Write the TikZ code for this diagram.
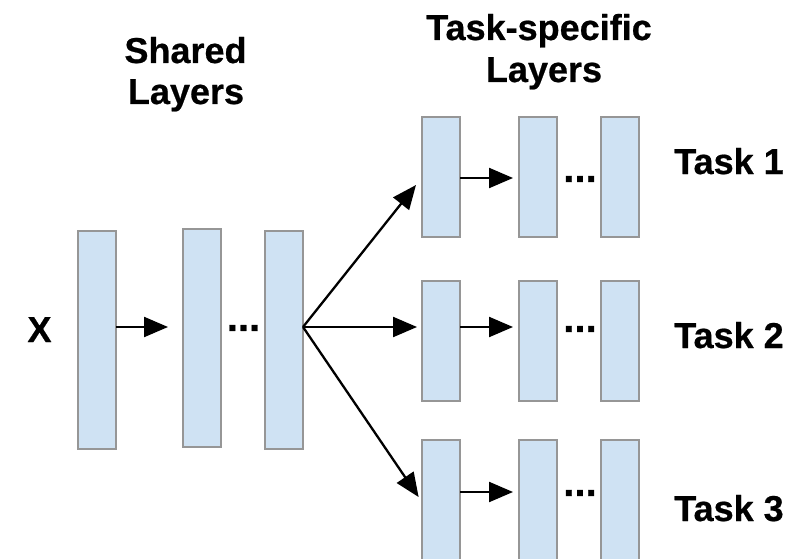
\documentclass[tikz,border=0pt]{standalone}
\usepackage{fontspec}
\setmainfont{Liberation Sans}[BoldFeatures={FakeBold=0.6}]
\usetikzlibrary{arrows.meta,calc}
\definecolor{layerfill}{HTML}{CFE2F3}
\definecolor{layerdraw}{HTML}{969696}
\tikzset{
  layer/.style={draw=layerdraw, line width=1.8pt, fill=layerfill, minimum width=38pt, inner sep=0pt, outer sep=0pt},
  tall/.style={layer, minimum height=218pt},
  short/.style={layer, minimum height=120pt},
  lbl/.style={font=\bfseries\fontsize{36}{42}\selectfont, inner sep=0pt, anchor=base},
  dotlbl/.style={font=\bfseries\fontsize{40}{44}\selectfont, inner sep=0pt},
  arr/.style={line width=2.3pt, -{Triangle[length=24pt,width=20pt]}},
}
\begin{document}
\begin{tikzpicture}[x=1pt,y=-1pt]
\useasboundingbox (0,0) rectangle (792,559);
\fill[white] (0,0) rectangle (792,559);
\clip (0,0) rectangle (792,559);

% headings
\node[lbl] (h1a) at (185.5,63) {Shared};
\node[lbl] (h1b) at (186,104) {Layers};
\node[lbl] (h2a) at (539,40) {Task-specific};
\node[lbl] (h2b) at (544,82) {Layers};

% input
\node[lbl] (x) at (39.5,342) {X};

% shared layers
\node[tall] (s1) at (97,340) {};
\node[tall] (s2) at (202,338) {};
\node[tall] (s3) at (284,340) {};
\node[dotlbl] (sd) at (243.5,328) {...};

% task rows
\node[short] (t1a) at (441,177) {};
\node[short] (t1b) at (538,177) {};
\node[short] (t1c) at (620,177) {};
\node[dotlbl] (d1) at (580,179) {...};

\node[short] (t2a) at (441,341) {};
\node[short] (t2b) at (538,341) {};
\node[short] (t2c) at (620,341) {};
\node[dotlbl] (d2) at (580,329) {...};

\node[layer, minimum height=124pt] (t3a) at (441,502) {};
\node[layer, minimum height=124pt] (t3b) at (538,502) {};
\node[layer, minimum height=124pt] (t3c) at (620,502) {};
\node[dotlbl] (d3) at (580,493) {...};

% task labels
\node[lbl] (l1) at (729,174) {Task 1};
\node[lbl] (l2) at (729,348) {Task 2};
\node[lbl] (l3) at (729,521) {Task 3};

% connectors
\coordinate (sout) at (s3.east |- 0,327);
\draw[arr, shorten >=15pt] (s1.east |- 0,327) -- (s2.west |- 0,327);
\draw[arr] (sout) -- ($(t1a.west)+(-6,8)$);
\draw[arr, shorten >=5pt] (sout) -- (t2a.west |- 0,327);
\draw[arr, shorten >=6pt] (sout) -- (t3a.west);

\draw[arr, shorten >=6pt] (t1a.east |- 0,178) -- (t1b.west |- 0,178);
\draw[arr, shorten >=6pt] (t2a.east |- 0,327) -- (t2b.west |- 0,327);
\draw[arr, shorten >=6pt] (t3a.east |- 0,492) -- (t3b.west |- 0,492);
\end{tikzpicture}
\end{document}
